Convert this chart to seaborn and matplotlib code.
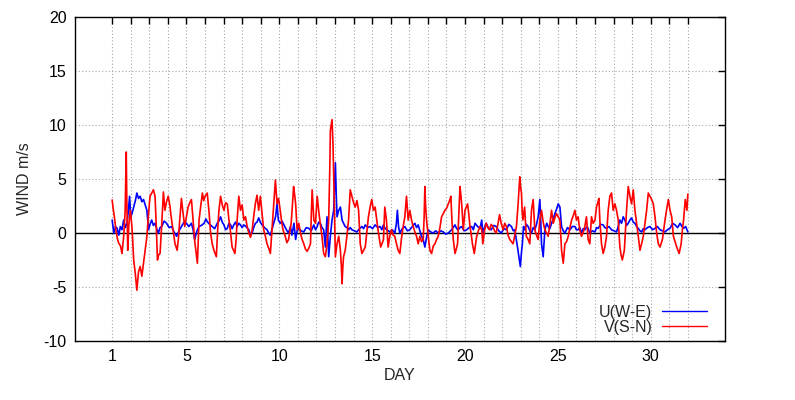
import matplotlib
matplotlib.use("Agg")
import matplotlib.pyplot as plt
import seaborn as sns
import pandas as pd

# ---- data ----
u_days = [1.0, 1.09, 1.18, 1.27, 1.36, 1.44, 1.53, 1.62, 1.71, 1.8, 1.87, 1.94, 2.0, 2.07, 2.16, 2.25, 2.33, 2.42, 2.51, 2.6, 2.69, 2.78, 2.87, 2.96, 3.04, 3.13, 3.22, 3.31, 3.4, 3.49, 3.58, 3.67, 3.8, 3.93, 4.07, 4.2, 4.33, 4.47, 4.6, 4.73, 4.87, 5.0, 5.13, 5.27, 5.36, 5.44, 5.57, 5.68, 5.8, 5.95, 6.05, 6.12, 6.25, 6.39, 6.52, 6.66, 6.75, 6.84, 6.93, 7.02, 7.11, 7.2, 7.29, 7.38, 7.46, 7.55, 7.64, 7.73, 7.82, 7.91, 8.0, 8.09, 8.2, 8.36, 8.45, 8.54, 8.62, 8.71, 8.8, 8.89, 8.98, 9.07, 9.2, 9.34, 9.43, 9.52, 9.6, 9.7, 9.8, 9.88, 9.95, 10.05, 10.15, 10.25, 10.38, 10.5, 10.6, 10.68, 10.79, 10.88, 10.96, 11.05, 11.18, 11.32, 11.45, 11.59, 11.72, 11.86, 11.95, 12.04, 12.12, 12.21, 12.3, 12.39, 12.48, 12.57, 12.66, 12.75, 12.84, 12.93, 13.02, 13.07, 13.11, 13.2, 13.29, 13.38, 13.46, 13.55, 13.64, 13.73, 13.82, 13.91, 14.05, 14.18, 14.32, 14.45, 14.54, 14.63, 14.76, 14.89, 15.02, 15.16, 15.3, 15.43, 15.52, 15.61, 15.7, 15.79, 15.95, 16.08, 16.22, 16.3, 16.36, 16.42, 16.49, 16.62, 16.76, 16.9, 17.03, 17.16, 17.3, 17.39, 17.48, 17.57, 17.66, 17.75, 17.84, 17.93, 18.02, 18.15, 18.29, 18.42, 18.56, 18.7, 18.83, 18.96, 19.1, 19.28, 19.46, 19.55, 19.64, 19.73, 19.82, 19.95, 20.09, 20.22, 20.36, 20.45, 20.54, 20.68, 20.81, 20.9, 20.96, 21.05, 21.14, 21.28, 21.41, 21.55, 21.68, 21.82, 21.95, 22.1, 22.23, 22.36, 22.5, 22.6, 22.68, 22.8, 22.9, 22.98, 23.04, 23.09, 23.15, 23.21, 23.3, 23.4, 23.49, 23.58, 23.67, 23.76, 23.85, 23.94, 24.03, 24.08, 24.12, 24.21, 24.26, 24.3, 24.4, 24.48, 24.57, 24.66, 24.75, 24.84, 24.93, 25.02, 25.11, 25.2, 25.29, 25.38, 25.52, 25.65, 25.78, 25.92, 26.0, 26.09, 26.18, 26.27, 26.36, 26.45, 26.58, 26.72, 26.86, 27.0, 27.08, 27.17, 27.3, 27.44, 27.53, 27.62, 27.75, 27.89, 28.02, 28.16, 28.25, 28.34, 28.43, 28.52, 28.61, 28.7, 28.79, 28.88, 28.97, 29.06, 29.15, 29.24, 29.33, 29.42, 29.51, 29.6, 29.69, 29.82, 29.96, 30.1, 30.23, 30.36, 30.5, 30.63, 30.77, 30.9, 31.04, 31.18, 31.31, 31.45, 31.58, 31.68, 31.77, 31.88, 32.0]
u_vals = [1.2, 0, 0.6, 0.43, -0.2, 0.6, 0.3, 1.2, 0.5, 0.9, 2.0, 3.4, 1.5, 1.8, 2.4, 3.0, 3.7, 3.2, 3.4, 2.9, 3.1, 2.6, 2.1, 0.3, 0.8, 1.2, 0.7, 0.9, 0.4, 0, 0.5, 0.6, 1.1, 0.9, 0.5, 0.6, 0.1, -0.3, 0.2, 0.6, 1.0, 0.9, 0.6, 0.9, 0.3, -0.6, 0.2, 0.6, 0.7, 0.9, 1.3, 1.05, 0.8, 0.6, 0.4, 0.9, 1.1, 1.5, 1.0, 0.75, 0.3, 0.43, 0.9, 0.75, 0.4, 0.75, 1.0, 0.6, 0.9, 0.75, 0.5, 0.75, 0.6, 0.3, -0.2, 0, 0.5, 0.9, 1.0, 1.4, 1.0, 0.75, 0.5, 0.3, 0.0, -0.2, 0.3, 0.9, 1.5, 2.7, 1.2, 0.9, 1.1, 0.75, 0.3, 0, 0.6, -0.2, 0.9, -0.6, 0.2, 0.43, 0.2, 0.1, 0.5, 0.43, 0.2, 0.75, 0.3, 0.6, 1.0, 0.9, 0.5, 0.3, -1.3, 1.5, -2.2, -0.3, 1.2, 2.1, 6.5, 3.4, 1.5, 2.1, 2.4, 1.2, 0.9, 0.6, 0.5, 0.3, 0.5, 0.3, 0.2, 0.1, 0.4, 0.6, 0.4, 0.75, 0.5, 0.6, 0.4, 0.75, 0.5, 0.6, 0.3, 0.75, 0.43, 0.3, 0.1, 0.3, 0, 0.8, 2.1, 0.6, 0, 0.4, 0.6, 0.2, 0.3, 0.6, 0.9, 0.5, 0.75, 0.2, -0.3, -0.6, -1.3, -0.4, 0.3, 0.1, 0, 0.2, 0, 0.2, 0.1, -0.1, 0, 0.3, 0.75, 0.4, 0.3, 0.5, 0.6, 0.2, 0.3, 0.5, 0.6, 0.3, 0.9, 0.6, 0.43, 1.2, 0, 0.5, 0.9, 0.4, 0.3, 0.7, 0.6, 0.2, 0, 0.4, 0.3, 0.8, 0.6, 0.2, 0.3, -1.0, -2.2, -3.1, -1.8, -1.0, 0.6, 0.3, 0.8, 0.6, 0.2, 0, 0.5, 0.3, 0.8, 1.5, 3.1, 1.0, -1.0, -2.2, -0.8, 0.3, 0.9, 0.6, 0.4, 0.9, 1.3, 1.8, 2.2, 2.7, 2.4, 0.6, 0.2, 0, 0.5, 0.3, 0.6, 0.6, 0.3, 0.3, 0.5, 0, 0.4, 0.3, 0.6, 0, 0.2, 0.1, 0.5, 0.43, 0.8, 0.75, 0.5, 0.43, 0.6, 0.3, 0.2, 0.1, 0.6, 1.2, 0.9, 1.5, 1.2, 0.7, 0.9, 1.2, 1.4, 1.0, 0.9, 0.6, 0.43, 0.2, 0.1, 0.4, 0.3, 0.5, 0.6, 0.3, 0.43, 0.6, 0.3, 0.2, 0.1, 0.3, 0.43, 0.9, 0.75, 0.5, 0.9, 0.6, 0.43, 0.6, 0.1]

v_days = [1.0, 1.06, 1.12, 1.2, 1.28, 1.36, 1.45, 1.53, 1.62, 1.7, 1.74, 1.76, 1.79, 1.84, 1.9, 1.98, 2.07, 2.16, 2.25, 2.33, 2.42, 2.51, 2.6, 2.69, 2.78, 2.87, 2.96, 3.04, 3.13, 3.22, 3.31, 3.38, 3.44, 3.51, 3.58, 3.67, 3.76, 3.84, 3.93, 4.02, 4.11, 4.2, 4.29, 4.38, 4.5, 4.57, 4.64, 4.73, 4.82, 4.91, 5.0, 5.09, 5.18, 5.27, 5.36, 5.45, 5.53, 5.59, 5.68, 5.77, 5.86, 5.93, 6.0, 6.12, 6.21, 6.3, 6.39, 6.48, 6.61, 6.68, 6.75, 6.84, 6.93, 7.02, 7.11, 7.2, 7.29, 7.38, 7.46, 7.61, 7.68, 7.73, 7.82, 7.91, 8.0, 8.09, 8.18, 8.27, 8.36, 8.45, 8.54, 8.62, 8.71, 8.8, 8.89, 8.98, 9.07, 9.16, 9.25, 9.34, 9.43, 9.52, 9.58, 9.64, 9.72, 9.79, 9.88, 9.96, 10.05, 10.13, 10.2, 10.32, 10.41, 10.5, 10.57, 10.64, 10.7, 10.77, 10.83, 10.88, 10.96, 11.05, 11.14, 11.23, 11.32, 11.41, 11.5, 11.59, 11.68, 11.72, 11.77, 11.86, 11.95, 12.04, 12.12, 12.21, 12.3, 12.39, 12.48, 12.57, 12.66, 12.72, 12.75, 12.84, 12.89, 12.96, 13.02, 13.11, 13.2, 13.29, 13.34, 13.38, 13.42, 13.46, 13.55, 13.64, 13.73, 13.82, 13.91, 14.0, 14.09, 14.18, 14.27, 14.36, 14.45, 14.54, 14.63, 14.72, 14.8, 14.89, 14.98, 15.07, 15.16, 15.25, 15.34, 15.46, 15.55, 15.61, 15.68, 15.77, 15.86, 15.95, 16.04, 16.13, 16.22, 16.31, 16.4, 16.49, 16.58, 16.67, 16.76, 16.85, 16.94, 17.03, 17.12, 17.21, 17.3, 17.39, 17.48, 17.57, 17.66, 17.75, 17.8, 17.84, 17.88, 17.93, 18.02, 18.11, 18.2, 18.29, 18.38, 18.47, 18.56, 18.65, 18.74, 18.83, 18.92, 19.01, 19.1, 19.17, 19.24, 19.3, 19.37, 19.46, 19.53, 19.6, 19.66, 19.73, 19.78, 19.82, 19.91, 20.0, 20.07, 20.14, 20.2, 20.27, 20.34, 20.4, 20.5, 20.57, 20.63, 20.72, 20.81, 20.9, 20.96, 21.05, 21.14, 21.23, 21.32, 21.41, 21.5, 21.59, 21.68, 21.77, 21.86, 21.95, 22.05, 22.14, 22.23, 22.32, 22.41, 22.5, 22.59, 22.68, 22.77, 22.86, 22.95, 23.0, 23.04, 23.08, 23.12, 23.21, 23.3, 23.4, 23.49, 23.58, 23.67, 23.76, 23.85, 23.94, 24.03, 24.12, 24.21, 24.3, 24.39, 24.48, 24.57, 24.66, 24.75, 24.84, 24.93, 25.02, 25.11, 25.2, 25.29, 25.38, 25.47, 25.56, 25.65, 25.74, 25.83, 25.92, 26.0, 26.09, 26.18, 26.27, 26.36, 26.45, 26.54, 26.63, 26.72, 26.81, 26.9, 27.0, 27.08, 27.15, 27.21, 27.26, 27.35, 27.44, 27.53, 27.62, 27.71, 27.8, 27.89, 27.98, 28.07, 28.16, 28.25, 28.34, 28.4, 28.47, 28.58, 28.64, 28.7, 28.79, 28.88, 28.97, 29.06, 29.15, 29.24, 29.33, 29.42, 29.51, 29.6, 29.69, 29.78, 29.87, 29.96, 30.05, 30.14, 30.23, 30.32, 30.41, 30.5, 30.63, 30.7, 30.77, 30.86, 30.95, 31.04, 31.13, 31.22, 31.31, 31.4, 31.53, 31.64, 31.7, 31.77, 31.86, 31.95, 32.0]
v_vals = [3.06, 2.2, 1.5, 0.3, -0.5, -0.96, -1.2, -1.9, -0.34, 2.0, 5.5, 7.5, 3.0, -1.6, 0.8, 2.1, 0.5, -2.5, -3.8, -5.3, -3.6, -3.1, -4.0, -2.8, -1.6, -0.34, 1.8, 3.4, 3.7, 4.0, 3.4, 0.5, -2.5, -2.0, -1.9, 0.8, 3.8, 2.1, 2.9, 3.4, 2.5, 1.2, 0.2, -0.96, -1.6, -0.5, 1.2, 3.2, 1.8, 0.6, 1.5, 2.4, 2.8, 3.1, 1.2, -0.8, -1.9, -2.8, 1.2, 2.5, 3.7, 3.0, 3.4, 3.7, 2.1, 0, -1.0, -1.6, -2.2, 0.2, 2.1, 3.4, 2.6, 2.1, 2.8, 2.7, 1.2, 0.0, -1.3, -1.9, -0.5, 1.2, 3.4, 2.1, 2.6, 1.2, 1.5, 0.6, 0, -0.4, 0.3, 1.5, 2.7, 3.5, 2.1, 3.4, 1.8, 0.3, -0.3, -1.0, -1.4, -1.9, -0.4, 1.2, 3.0, 4.9, 2.7, 3.2, 2.1, 1.0, 0.3, -0.3, -0.9, -0.6, 0.2, 0.9, 2.4, 4.3, 3.5, 2.7, 0.3, 0.9, 0, -0.6, -1.0, -1.5, -1.7, -1.4, -1.0, 1.5, 4.0, 1.2, 0.9, 3.4, 2.1, 0.8, -0.3, -1.9, -2.2, -1.0, 1.2, 6.0, 9.5, 10.5, 8.3, 3.1, -2.2, -1.0, -0.3, -1.6, -3.0, -4.7, -3.2, -2.2, -1.6, -0.3, 1.2, 4.0, 3.4, 2.8, 2.4, 3.0, 2.1, -1.0, -1.9, -1.6, -1.3, 0.2, 1.5, 2.4, 3.1, 2.1, 2.4, 1.2, 0, -1.3, -0.9, -0.6, 2.4, 1.2, -1.3, -0.3, 0.3, -0.2, -0.3, -1.0, -1.6, -1.9, -0.5, 0.6, 1.5, 3.4, 1.2, 2.1, 1.2, 0.6, 0.1, -0.3, -1.0, -0.3, -0.8, -0.6, 1.5, 4.3, 2.5, 1.2, -0.3, -1.6, -1.9, -1.2, -1.0, -0.6, -0.3, 0.5, 1.5, 1.8, 2.1, 2.3, 2.7, 3.0, 3.4, 1.0, -0.6, -1.9, -1.5, -1.0, 1.5, 4.3, 3.5, 2.7, 0.3, 2.1, 2.4, 2.7, 1.8, 0.6, -0.2, -1.0, -1.9, -1.0, -0.3, 0.2, 0.6, 0.3, -1.0, 0.2, 0.9, 0.5, 0.3, 0.8, 0.6, 0.2, 0, 0.8, 1.7, 0.9, 0.3, 0.9, 0.6, -0.2, -0.6, -0.8, -1.0, -0.2, 0.6, 2.7, 5.2, 4.2, 3.7, 2.0, 1.2, 2.4, -0.3, -0.6, -1.0, 2.1, 3.1, 0.3, -0.2, -0.6, 1.2, 2.1, 1.0, 0.3, 0.0, -0.3, 0.8, 2.1, 0.9, 1.4, 1.8, 1.5, 1.2, -1.6, -2.8, -1.0, -0.8, -0.3, 0.5, 1.2, 1.6, 2.1, 1.2, 1.5, 0.3, -0.3, 0, 0.6, 1.5, -0.6, -1.0, 1.5, 0.9, 1.2, 2.4, 2.8, 3.2, 1.2, -1.0, -1.9, -1.3, -0.3, 2.1, 3.4, 3.7, 2.1, 2.7, 2.1, 1.2, -1.3, -2.0, -2.5, -1.6, 0.3, 2.1, 4.3, 3.4, 2.7, 4.0, 2.1, 0.9, -0.3, -1.6, -1.0, -0.3, 0.9, 2.1, 3.7, 3.4, 3.1, 2.7, 1.5, 0, -1.0, -1.3, -0.6, 0.3, 1.2, 2.2, 3.1, 2.1, 1.5, -0.3, -0.8, -1.3, -1.9, -1.0, 0.2, 1.2, 3.1, 2.1, 3.6]

series_labels = ["U(W-E)", "V(S-N)"]
x_ticks = list(range(1, 33))
x_labeled = [1, 5, 10, 15, 20, 25, 30]
y_ticks = [-10, -5, 0, 5, 10, 15, 20]

# ---- figure ----
sns.set_style("white")
plt.rcParams["font.family"] = ["Liberation Sans", "DejaVu Sans"]
plt.rcParams["axes.unicode_minus"] = False

FS = 11.5

fig = plt.figure(figsize=(7.95, 4.0), dpi=100)
ax = fig.add_axes([75 / 795, 59 / 400, 650 / 795, 324 / 400])

df_u = pd.DataFrame({"day": u_days, "wind": u_vals})
df_v = pd.DataFrame({"day": v_days, "wind": v_vals})

sns.lineplot(data=df_u, x="day", y="wind", color="#0000ff", lw=1.2,
             estimator=None, sort=False, ax=ax, label=series_labels[0], zorder=3)
sns.lineplot(data=df_v, x="day", y="wind", color="#ff0000", lw=1.2,
             estimator=None, sort=False, ax=ax, label=series_labels[1], zorder=4)

ax.set_xlim(-1, 34)
ax.set_ylim(-10, 20)
ax.set_xticks(x_ticks)
ax.set_xticklabels([str(t) if t in x_labeled else "" for t in x_ticks])
ax.set_yticks(y_ticks)
ax.set_yticklabels([str(t) for t in y_ticks])
ax.grid(True, color="#a8a8a8", linestyle=(0, (1, 2)), linewidth=0.8)
ax.axhline(0, color="black", lw=1.0, zorder=2)

for s in ax.spines.values():
    s.set_color("black")
    s.set_linewidth(1.0)

ax.tick_params(direction="in", top=True, right=True, length=5, width=1,
               labelsize=FS, colors="black", pad=6)
ax.set_xlabel("DAY", fontsize=FS, labelpad=3)
ax.set_ylabel("WIND m/s", fontsize=FS, labelpad=8)

leg = ax.legend(loc="lower right", frameon=False, markerfirst=False,
                fontsize=FS, handlelength=2.8, handletextpad=0.6,
                labelspacing=0.0, borderpad=0.0, borderaxespad=0.0,
                bbox_to_anchor=(0.972, 0.02))
for line in leg.get_lines():
    line.set_linewidth(1.0)

fig.savefig("out.png", dpi=100)
